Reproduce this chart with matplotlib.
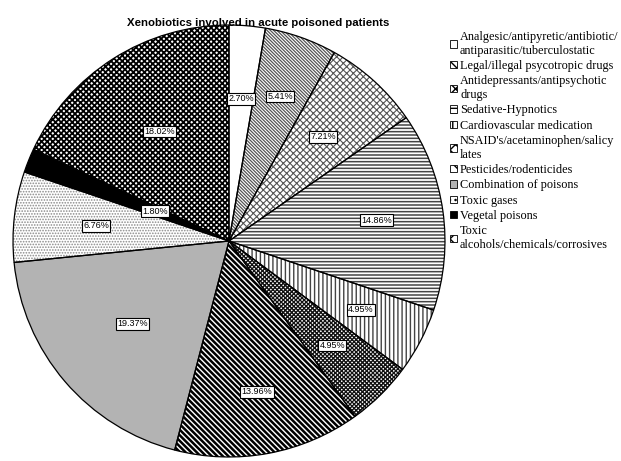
import matplotlib
matplotlib.use("Agg")
import matplotlib.pyplot as plt
import matplotlib.patches as mpatches
import numpy as np

categories = [
    "Analgesic/antipyretic/antibiotic/\nantiparasitic/tuberculostatic",
    "Legal/illegal psycotropic drugs",
    "Antidepressants/antipsychotic\ndrugs",
    "Sedative-Hypnotics",
    "Cardiovascular medication",
    "NSAID's/acetaminophen/salicy\nlates",
    "Pesticides/rodenticides",
    "Combination of poisons",
    "Toxic gases",
    "Vegetal poisons",
    "Toxic\nalcohols/chemicals/corrosives",
]
percents = [2.70, 5.41, 7.21, 14.86, 4.95, 4.95, 13.96, 19.37, 6.76, 1.80, 18.02]

# style per slice: face colour, hatch, hatch colour, hatch linewidth
faces   = ["white", "white", "white", "white", "white", "white", "white", "#b3b3b3", "white", "black", "white"]
hatches = [None, "\\" * 10, "xxxxx", "-----", "||||", "x" * 8, "\\" * 6, None, "." * 6, None, "x" * 6]
hcols   = ["black", "#555555", "#555555", "#444444", "#444444", "#111111", "black", "black", "#8a8a8a", "black", "black"]
hlws    = [1.0, 0.9, 0.8, 1.1, 1.0, 0.95, 1.8, 1.0, 0.8, 1.0, 1.3]
label_r = [0.66, 0.71, 0.65, 0.69, 0.69, 0.68, 0.71, 0.59, 0.62, 0.37, 0.60]

fig = plt.figure(figsize=(6.21, 4.61), dpi=100)
ax = fig.add_axes([0.0209, 0.0087, 0.6957, 0.937])

wedges, _ = ax.pie(percents, startangle=90, counterclock=False, colors=faces,
                   wedgeprops=dict(linewidth=0))
for w, h, hc, lw in zip(wedges, hatches, hcols, hlws):
    if h:
        w.set_hatch(h)
        w.set_edgecolor(hc)
        if hasattr(w, "set_hatch_linewidth"):
            w.set_hatch_linewidth(lw)

# outlines on top
outl, _ = ax.pie(percents, startangle=90, counterclock=False,
                 wedgeprops=dict(fill=False, edgecolor="black", linewidth=0.9))

for w, p, r in zip(wedges, percents, label_r):
    ang = np.deg2rad((w.theta1 + w.theta2) / 2)
    ax.text(r * np.cos(ang), r * np.sin(ang), f"{p:.2f}%", ha="center", va="center",
            fontsize=6.5, family="Liberation Sans", zorder=5,
            bbox=dict(boxstyle="square,pad=0.15", fc="white", ec="black", lw=0.8))
ax.set_xlim(-1.0, 1.0); ax.set_ylim(-1.0, 1.0)

fig.text(0.415, 0.95, "Xenobiotics involved in acute poisoned patients", ha="center", va="center",
         fontsize=8.2, fontweight="bold", family="Liberation Sans")

handles = []
for f, h in zip(faces, hatches):
    hh = h[:3] if h else None
    handles.append(mpatches.Patch(facecolor=f, edgecolor="black", hatch=hh, linewidth=0.6))
leg = fig.legend(handles, categories, loc="upper left", bbox_to_anchor=(0.725, 0.933),
                 frameon=False, prop=dict(family="Liberation Serif", size=8.8),
                 handlelength=0.55, handleheight=0.55, handletextpad=0.25,
                 labelspacing=0.27, borderpad=0, borderaxespad=0)

plt.savefig("out.png", dpi=100)
